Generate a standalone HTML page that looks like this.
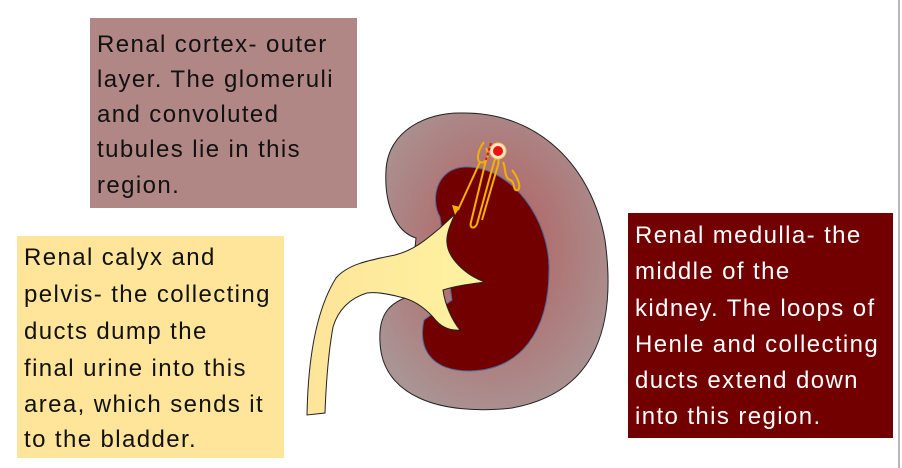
<!DOCTYPE html>
<html><head><meta charset="utf-8"><style>
html,body{margin:0;padding:0;background:#fff;}
body{width:902px;height:468px;position:relative;overflow:hidden;font-family:"Liberation Sans",sans-serif;}
.box{position:absolute;box-sizing:border-box;font-size:24px;letter-spacing:1.4px;}
.box div{position:absolute;left:7px;white-space:nowrap;line-height:26px;}
</style></head><body>
<div style="position:absolute;left:898px;top:0;width:2px;height:468px;background:#b8b8b8"></div>
<svg width="902" height="468" style="position:absolute;left:0;top:0">
<defs>
<radialGradient id="cg" cx="0.5" cy="0.45" r="0.6">
<stop offset="0.3" stop-color="#b06c6c"/><stop offset="1" stop-color="#aa9494"/>
</radialGradient>
<linearGradient id="yg" x1="0" y1="0" x2="1" y2="0">
<stop offset="0" stop-color="#fde49a"/><stop offset="1" stop-color="#fff3a0"/>
</linearGradient>
</defs>
<path d="M386,170 C388,130 428,112 462,113 C540,112 592,168 605,240 C616,320 600,392 512,408 C440,416 382,396 380,342 C378,312 392,302 410,296 L416,238 C396,232 384,205 386,170 Z" fill="url(#cg)" stroke="#222" stroke-width="1"/>
<path d="M440,217 C430,200 436,168 465,167 C512,166 550,220 549,270 C549,332 520,370 470,371 C430,371 418,348 424,320 L452,300 L440,217 Z" fill="#730000" stroke="#4a6a9a" stroke-width="1"/>
<path d="M307,415 C308,360 316,310 336,278 C348,264 370,260 395,255 C415,250 428,238 440,228 L455,214 C450,225 446,235 447,243 C448,258 465,275 485,282 C470,284 455,286 443,290 C445,305 452,320 460,330 C448,331 440,326 433,317 C422,305 410,299 400,297 C385,293 375,292 367,293 C350,298 338,310 333,327 C328,355 326,385 325,413 Z" fill="url(#yg)" stroke="#222" stroke-width="1"/>
<g fill="none" stroke="#f5b000" stroke-width="2">
<path d="M484,142 C478,150 476,160 480,162 C486,165 490,155 486,148"/>
<path d="M480,162 L458,210"/>
<path d="M486,160 L471,222 C469,229 475,229 477,224 L494,162"/>
<path d="M494,162 C496,155 500,158 498,165 L482,220"/>
<path d="M503,162 C506,168 504,178 510,180 C516,182 512,192 518,190 C522,186 516,175 512,170"/>
</g>
<polygon points="455,215 452,205 460,207" fill="#f5b000"/>
<circle cx="498" cy="151" r="8" fill="#fde8c8" stroke="#f5c060" stroke-width="1"/>
<circle cx="498" cy="151" r="5" fill="#ee1111"/>
<path d="M491,143 L486,160" stroke="#ee1111" stroke-width="2" stroke-dasharray="3,2"/>
</svg>
<div class="box" style="left:90px;top:18px;width:267px;height:190px;background:#b08785;color:#111">
<div style="top:14px">Renal cortex- outer</div>
<div style="top:49px">layer. The glomeruli</div>
<div style="top:84px">and convoluted</div>
<div style="top:119px">tubules lie in this</div>
<div style="top:155px">region.</div>
</div>
<div class="box" style="left:17px;top:236px;width:267px;height:222px;background:#fee599;color:#111">
<div style="top:9px">Renal calyx and</div>
<div style="top:46px">pelvis- the collecting</div>
<div style="top:83px">ducts dump the</div>
<div style="top:120px">final urine into this</div>
<div style="top:156px">area, which sends it</div>
<div style="top:191px">to the bladder.</div>
</div>
<div class="box" style="left:628px;top:213px;width:265px;height:225px;background:#730000;color:#fff">
<div style="top:10px">Renal medulla- the</div>
<div style="top:46px">middle of the</div>
<div style="top:83px">kidney. The loops of</div>
<div style="top:119px">Henle and collecting</div>
<div style="top:155px">ducts extend down</div>
<div style="top:191px">into this region.</div>
</div>
</body></html>
